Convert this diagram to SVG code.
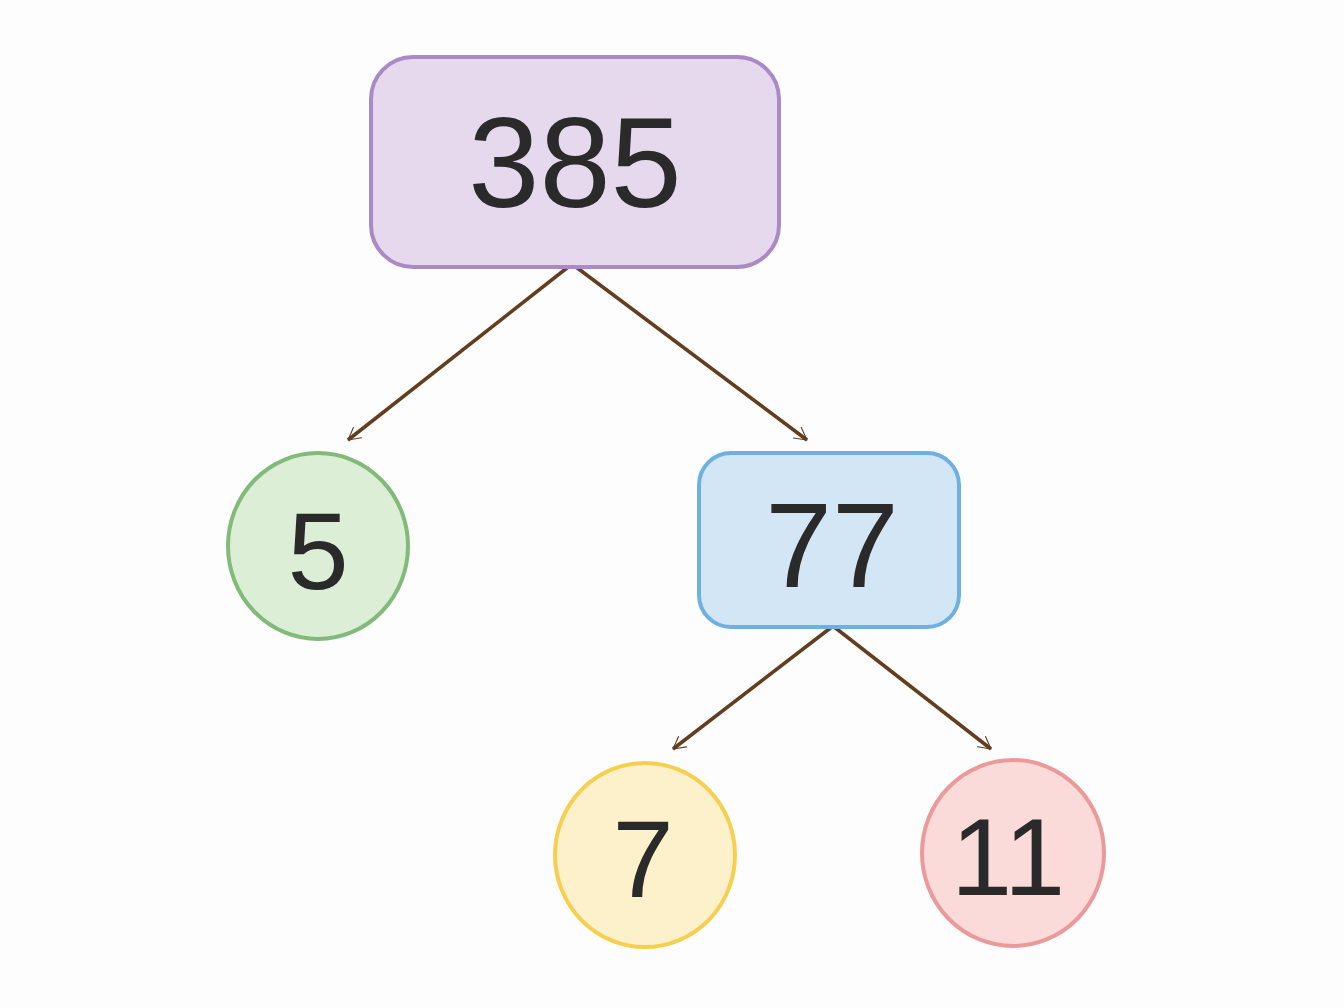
<svg xmlns="http://www.w3.org/2000/svg" width="1344" height="1008" viewBox="0 0 1344 1008">
<style>
.n{stroke-width:4}
.t{font-family:"Liberation Sans",sans-serif;fill:#2a2a2a;text-anchor:middle;dominant-baseline:central}
.e{stroke:#623d1e;stroke-width:3.5;fill:none;marker-end:url(#a)}
</style>
<defs><marker id="a" viewBox="0 0 20 20" refX="18" refY="10" markerWidth="10" markerHeight="10" markerUnits="userSpaceOnUse" orient="auto" overflow="visible"><path d="M-6 -3 L18 10 L-6 23" fill="none" stroke="#623d1e" stroke-width="2.2" stroke-linecap="round" stroke-linejoin="round"/></marker></defs>
<rect width="1344" height="1008" fill="#fdfdfd"/>
<g id="edges">
<line class="e" x1="572" y1="264" x2="348" y2="440"/>
<line class="e" x1="572" y1="264" x2="807" y2="440"/>
<line class="e" x1="833" y1="626" x2="673" y2="749"/>
<line class="e" x1="833" y1="626" x2="991" y2="749"/>
</g>
<g id="n385"><rect class="n" x="371" y="57" width="408" height="210" rx="42" fill="#e6d9ee" stroke="#a98ac6"/><text class="t" x="575" y="162" font-size="128">385</text></g>
<g id="n5"><ellipse class="n" cx="318" cy="546" rx="90" ry="93" fill="#dcefd6" stroke="#82bb79"/><text class="t" x="318" y="550" font-size="110">5</text></g>
<g id="n77"><rect class="n" x="699" y="453" width="260" height="174" rx="32" fill="#d3e6f6" stroke="#6fb0e0"/><text class="t" x="832" y="545" font-size="120">77</text></g>
<g id="n7"><ellipse class="n" cx="645" cy="855" rx="90" ry="92" fill="#fdf1cc" stroke="#f7cf4e"/><text class="t" x="643" y="858" font-size="110">7</text></g>
<g id="n11"><ellipse class="n" cx="1013" cy="853" rx="91" ry="93" fill="#fbdada" stroke="#eb9a9c"/><text class="t" x="1008" y="856" font-size="110">11</text></g>
</svg>
